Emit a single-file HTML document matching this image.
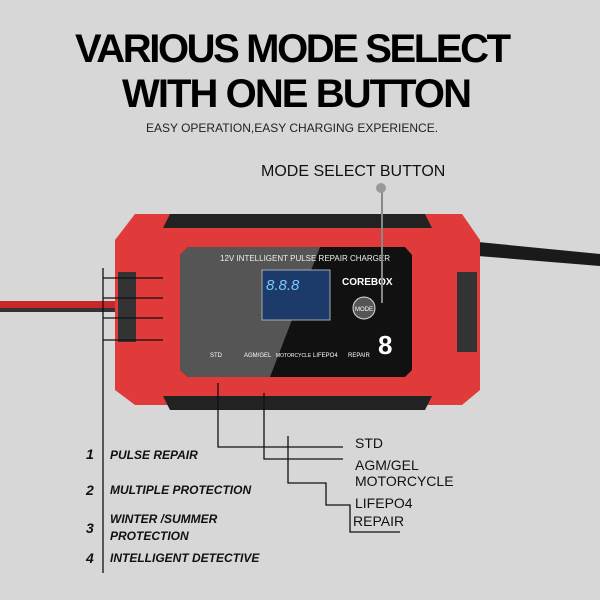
<!DOCTYPE html>
<html><head><style>body{margin:0;background:#d7d7d7}svg{display:block}</style></head><body>
<svg width="600" height="600" viewBox="0 0 600 600" xmlns="http://www.w3.org/2000/svg" font-family="Liberation Sans, sans-serif">
<rect width="600" height="600" fill="#d7d7d7"/>
<text x="293" y="62" font-size="40" font-weight="900" text-anchor="middle" fill="#000" textLength="436">VARIOUS MODE SELECT</text>
<text x="297" y="107" font-size="40" font-weight="900" text-anchor="middle" fill="#000" textLength="350">WITH ONE BUTTON</text>
<text x="292" y="132" font-size="12" text-anchor="middle" fill="#222">EASY OPERATION,EASY CHARGING EXPERIENCE.</text>
<text x="261" y="176" font-size="16" fill="#111">MODE SELECT BUTTON</text>
<!-- cables -->
<rect x="0" y="301" width="120" height="7" fill="#c8282a"/>
<rect x="0" y="308" width="120" height="4" fill="#333"/>
<path d="M478 242 L600 254 L600 266 L478 256 Z" fill="#1a1a1a"/>
<!-- body -->
<path d="M135 214 L462 214 L480 240 L480 390 L462 405 L135 405 L115 390 L115 240 Z" fill="#e03a3a"/>
<!-- bumpers -->
<path d="M170 214 L425 214 L432 228 L163 228 Z" fill="#222"/>
<path d="M163 396 L432 396 L425 410 L170 410 Z" fill="#222"/>
<rect x="118" y="272" width="18" height="70" fill="#333"/>
<rect x="457" y="272" width="20" height="80" fill="#333"/>
<!-- screen -->
<path d="M188 247 L405 247 L412 255 L412 370 L405 377 L188 377 L180 370 L180 255 Z" fill="#111"/>
<path d="M188 247 L320 247 L270 377 L188 377 L180 370 L180 255 Z" fill="#555"/>
<rect x="262" y="270" width="68" height="50" fill="#1c3a6a" stroke="#aaa"/>
<text x="266" y="290" font-size="15" fill="#7cc8ff" font-style="italic">8.8.8</text>
<text x="220" y="261" font-size="8" fill="#eee">12V INTELLIGENT PULSE REPAIR CHARGER</text>
<text x="342" y="285" font-size="10" font-weight="bold" fill="#fff">COREBOX</text>
<circle cx="364" cy="308" r="11" fill="#555" stroke="#ddd"/>
<text x="364" y="311" font-size="6" text-anchor="middle" fill="#fff">MODE</text>
<text x="378" y="354" font-size="26" font-weight="bold" fill="#fff">8</text>
<text x="210" y="357" font-size="6" fill="#fff">STD</text><text x="244" y="357" font-size="6" fill="#fff">AGM/GEL</text><text x="276" y="357" font-size="5" fill="#fff">MOTORCYCLE</text><text x="313" y="357" font-size="6" fill="#fff">LIFEPO4</text><text x="348" y="357" font-size="6" fill="#fff">REPAIR</text>
<!-- pointer -->
<line x1="382" y1="188" x2="382" y2="303" stroke="#888" stroke-width="2"/>
<circle cx="381" cy="188" r="5" fill="#999"/>
<!-- leader lines -->
<g stroke="#111" stroke-width="1.3" fill="none">
<line x1="103" y1="268" x2="103" y2="573"/>
<line x1="103" y1="278" x2="163" y2="278"/><line x1="103" y1="298" x2="163" y2="298"/>
<line x1="103" y1="318" x2="163" y2="318"/><line x1="103" y1="340" x2="163" y2="340"/>
<polyline points="218,383 218,447 343,447"/>
<polyline points="264,393 264,459 343,459"/>
<polyline points="288,436 288,483 326,483 326,505 350,505 350,532 400,532"/>
</g>
<g font-size="12" font-weight="bold" font-style="italic" fill="#111">
<text x="86" y="459" font-size="14">1</text><text x="110" y="459">PULSE REPAIR</text>
<text x="86" y="495" font-size="14">2</text><text x="110" y="494">MULTIPLE PROTECTION</text>
<text x="86" y="533" font-size="14">3</text><text x="110" y="523">WINTER /SUMMER</text><text x="110" y="540">PROTECTION</text>
<text x="86" y="563" font-size="14">4</text><text x="110" y="562">INTELLIGENT DETECTIVE</text>
</g>
<g font-size="14" fill="#111">
<text x="355" y="448">STD</text><text x="355" y="470">AGM/GEL</text><text x="355" y="486">MOTORCYCLE</text>
<text x="355" y="508">LIFEPO4</text><text x="353" y="526">REPAIR</text>
</g>
</svg>
</body></html>
